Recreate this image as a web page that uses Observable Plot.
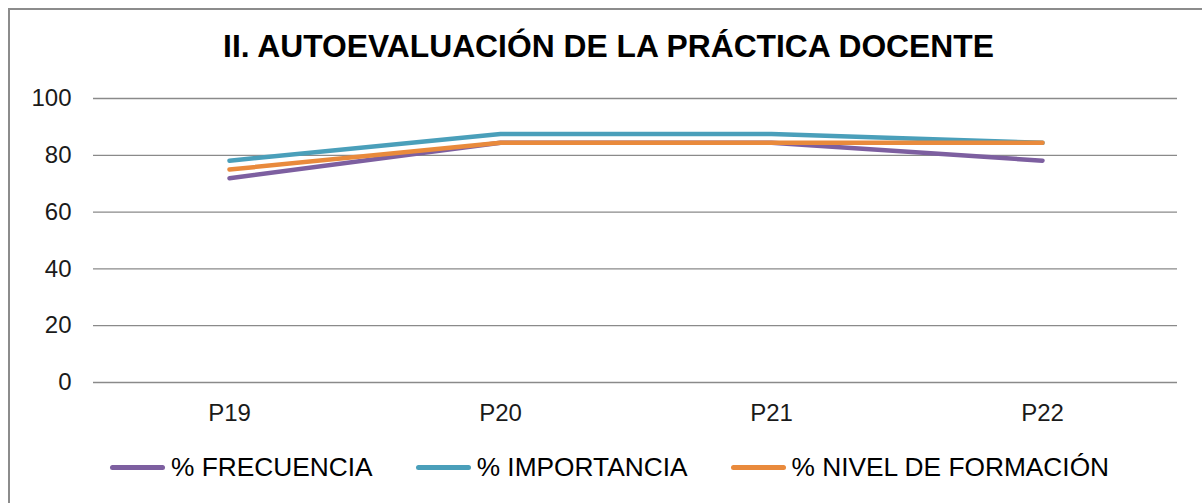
<!DOCTYPE html>
<html>
<head>
<meta charset="utf-8">
<script src="https://cdn.jsdelivr.net/npm/d3@7"></script>
<script src="https://cdn.jsdelivr.net/npm/@observablehq/plot@0.6"></script>
<style>
  html, body { margin: 0; padding: 0; background: #fff; }
  #chart { position: relative; width: 1202px; height: 503px; overflow: hidden; background: #fff;
           font-family: Arial, "Liberation Sans", sans-serif; }
  #frame { position: absolute; left: 8px; top: 8px; width: 1400px; height: 700px;
           border: 2px solid #8c8c8c; box-sizing: border-box; }
  #title { position: absolute; left: 0; width: 1217px; top: 28px; text-align: center;
           font-size: 31.8px; font-weight: bold; color: #000; line-height: normal; }
  #plot { position: absolute; left: 0; top: 0; }
  #legend { position: absolute; left: 110px; top: 452px; display: flex; gap: 43px;
            font-size: 26.3px; color: #000; line-height: normal; }
  .item { display: flex; align-items: center; }
  .sw { width: 55px; height: 5px; border-radius: 3px; margin-right: 6px; }
</style>
</head>
<body>
<div id="chart">
  <div id="frame"></div>
  <div id="plot"></div>
  <div id="title">II. AUTOEVALUACIÓN DE LA PRÁCTICA DOCENTE</div>
  <div id="legend"></div>
</div>
<script>
const categories = ["P19", "P20", "P21", "P22"];
const seriesNames = ["% FRECUENCIA", "% IMPORTANCIA", "% NIVEL DE FORMACIÓN"];
const frecuencia = [71.9, 84.4, 84.4, 78.1];
const importancia = [78.1, 87.5, 87.5, 84.4];
const nivel = [75.0, 84.4, 84.4, 84.4];
const seriesColors = ["#7D5FA0", "#4A9FBA", "#E98A3C"];
const yTicks = [0, 20, 40, 60, 80, 100];

const seriesValues = [frecuencia, importancia, nivel];
const data = [];
seriesNames.forEach((s, i) => categories.forEach((c, j) => data.push({series: s, cat: c, value: seriesValues[i][j]})));

const chart = Plot.plot({
  width: 1202,
  height: 440,
  marginLeft: 93,
  marginRight: 25,
  marginTop: 98,
  marginBottom: 58,
  style: {background: "transparent", fontFamily: "Arial, 'Liberation Sans', sans-serif"},
  x: {type: "point", domain: categories, padding: 0.5},
  y: {domain: [0, 100]},
  color: {domain: seriesNames, range: seriesColors},
  marks: [
    Plot.gridY(yTicks, {stroke: "#8a8a8a", strokeOpacity: 1, strokeWidth: 1.3}),
    Plot.axisY(yTicks, {tickSize: 0, tickPadding: 22, fontSize: 24, color: "#1a1a1a", label: null}),
    Plot.axisX({tickSize: 0, tickPadding: 21, fontSize: 24, color: "#1a1a1a", label: null}),
    Plot.line(data, {x: "cat", y: "value", z: "series", stroke: "series", strokeWidth: 4.5,
                     strokeLinecap: "round", strokeLinejoin: "round"})
  ]
});
document.getElementById("plot").appendChild(chart);

const legend = document.getElementById("legend");
seriesNames.forEach((s, i) => {
  const item = document.createElement("div");
  item.className = "item";
  const sw = document.createElement("div");
  sw.className = "sw";
  sw.style.background = seriesColors[i];
  const label = document.createElement("span");
  label.textContent = s;
  item.appendChild(sw);
  item.appendChild(label);
  legend.appendChild(item);
});
</script>
</body>
</html>
